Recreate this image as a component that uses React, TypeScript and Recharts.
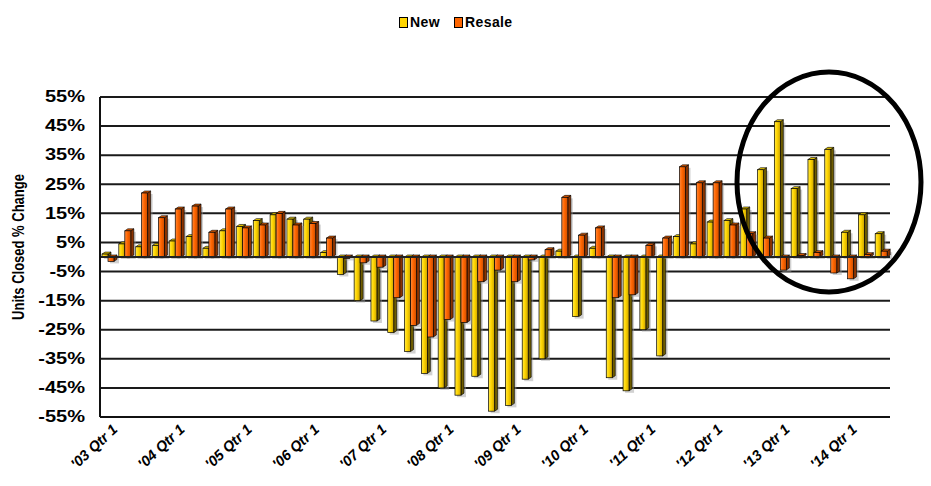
import {
  BarChart,
  Bar,
  XAxis,
  YAxis,
  CartesianGrid,
  Legend,
  ReferenceLine,
} from 'recharts';

const YEARS = ['03', '04', '05', '06', '07', '08', '09', '10', '11', '12', '13', '14'];

// '03 Qtr 1 ... '14 Qtr 3
const QUARTERS: string[] = [];
YEARS.forEach((yr) => {
  [1, 2, 3, 4].forEach((q) => QUARTERS.push(`'${yr} Qtr ${q}`));
});
QUARTERS.length = 47;

const NEW_VALUES = [
  1, 4.5, 3.5, 4, 5.5, 7, 3, 9, 10.5, 12.5, 14.5, 13, 13, 1.5, -6, -15, -22, -26, -32.5, -40, -45,
  -47.5, -41, -53, -51, -42, -35, 2, -20.5, 3, -41.5, -46, -25, -34, 7, 4.5, 12, 12.5, 16.5, 30,
  46.5, 23.5, 33.5, 37, 8.5, 14.5, 8,
];

const RESALE_VALUES = [
  -1.5, 9, 22, 13.5, 16.5, 17.5, 8.5, 16.5, 10, 11, 15, 11, 11.5, 6.5, -0.5, -2, -3.5, -14, -23.5,
  -27.5, -21.5, -22.5, -8.5, -4.5, -8.5, -1, 2.5, 20.5, 7.5, 10, -14, -13, 4, 6.5, 31, 25.5, 25.5,
  11, 8, 6.5, -4.5, 0.5, 1.5, -5.5, -7.5, 0.8, 2,
];

const Y_TICKS = [-55, -45, -35, -25, -15, -5, 5, 15, 25, 35, 45, 55];

const data = QUARTERS.map((q, i) => ({
  q,
  newUnits: NEW_VALUES[i],
  resale: RESALE_VALUES[i],
}));

const FONT = 'Arial, "Liberation Sans", Helvetica, sans-serif';

const SIDES: Record<string, { side: string; top: string; grad: string }> = {
  newUnits: { side: '#6e5c00', top: '#e3c400', grad: 'gNew' },
  resale: { side: '#8a3300', top: '#d95700', grad: 'gResale' },
};

function Bar3D(props: any) {
  const { x, y, width, height, kind } = props;
  if (x == null || y == null) return null;
  const t = Math.min(y, y + height);
  const h = Math.abs(height);
  const d = 3;
  const e = 2;
  const c = SIDES[kind];
  const r = x + width;
  return (
    <g>
      <rect x={x + 2} y={t + 1} width={width + d} height={h + 1} fill="#9a9a9a" opacity={0.45} />
      <polygon
        points={`${r},${t} ${r + d},${t - e} ${r + d},${t + h - e} ${r},${t + h}`}
        fill={c.side}
        stroke="#000"
        strokeWidth={0.6}
      />
      <polygon
        points={`${x},${t} ${x + d},${t - e} ${r + d},${t - e} ${r},${t}`}
        fill={c.top}
        stroke="#000"
        strokeWidth={0.6}
      />
      <rect x={x} y={t} width={width} height={h} fill={`url(#${c.grad})`} stroke="#000" strokeWidth={0.7} />
    </g>
  );
}

function YTick({ x, y, payload }: any) {
  return (
    <text
      transform={`translate(${x},${y}) scale(1.25,1)`}
      textAnchor="end"
      dominantBaseline="central"
      fontSize={16}
      fontWeight="bold"
      fontFamily={FONT}
      fill="#000"
    >
      {payload.value}%
    </text>
  );
}

function YLabel({ viewBox }: any) {
  const cy = viewBox.y + viewBox.height / 2 - 10;
  return (
    <text
      transform={`translate(18,${cy}) scale(1.25,1) rotate(-90)`}
      textAnchor="middle"
      dominantBaseline="central"
      fontSize={13}
      fontWeight="bold"
      fontFamily={FONT}
      fill="#000"
    >
      Units Closed % Change
    </text>
  );
}

function LegendBox({ payload }: any) {
  return (
    <div style={{ position: 'relative', height: 97, width: 931 }}>
      <div
        style={{
          position: 'absolute',
          left: 399,
          top: 14,
          display: 'flex',
          alignItems: 'center',
          fontFamily: FONT,
          fontWeight: 700,
          fontSize: 14,
          color: '#000',
        }}
      >
        {(payload || []).map((p: any, i: number) => (
          <span key={p.value} style={{ display: 'flex', alignItems: 'center', marginLeft: i ? 14 : 0 }}>
            <span
              style={{
                display: 'inline-block',
                width: 7,
                height: 9,
                background: p.color,
                border: '1px solid #000',
                marginRight: 2,
              }}
            />
            <span style={{ letterSpacing: 0.4 }}>{p.value}</span>
          </span>
        ))}
      </div>
    </div>
  );
}

export default function App() {
  return (
    <div style={{ position: 'absolute', left: 0, top: 0, width: 931, height: 486, background: '#fff' }}>
      <BarChart
        width={931}
        height={486}
        data={data}
        margin={{ top: 0, right: 41, bottom: 0, left: 0 }}
        barGap={0}
        barSize={6}
      >
        <defs>
          <linearGradient id="gNew" x1="0" y1="0" x2="1" y2="0">
            <stop offset="0%" stopColor="#ffe94a" />
            <stop offset="45%" stopColor="#ffd500" />
            <stop offset="100%" stopColor="#c9a200" />
          </linearGradient>
          <linearGradient id="gResale" x1="0" y1="0" x2="1" y2="0">
            <stop offset="0%" stopColor="#ff8c40" />
            <stop offset="45%" stopColor="#ff6600" />
            <stop offset="100%" stopColor="#cc4c00" />
          </linearGradient>
        </defs>
        <CartesianGrid vertical={false} stroke="#1a1a1a" strokeWidth={2} />
        <XAxis
          dataKey="q"
          interval={0}
          height={69}
          tickSize={0}
          tickMargin={6}
          tickLine={false}
          angle={-43}
          textAnchor="end"
          tickFormatter={(v: string) => (v.endsWith('Qtr 1') ? v : '')}
          tick={{ fontSize: 14.5, fontWeight: 'bold', fontStyle: 'italic', fontFamily: FONT, fill: '#000', dx: 3 }}
          axisLine={{ stroke: '#111', strokeWidth: 2 }}
        />
        <YAxis
          width={100}
          domain={[-55, 55]}
          ticks={Y_TICKS}
          allowDataOverflow
          tickSize={0}
          tickMargin={15}
          tickLine={false}
          axisLine={{ stroke: '#111', strokeWidth: 2 }}
          tick={<YTick />}
          label={{ content: (p: any) => <YLabel {...p} /> }}
        />
        <YAxis
          yAxisId="right"
          orientation="right"
          width={0}
          domain={[-55, 55]}
          ticks={Y_TICKS}
          tick={false}
          tickLine={false}
          axisLine={{ stroke: '#111', strokeWidth: 2 }}
        />
        <Legend verticalAlign="top" wrapperStyle={{ left: 0, top: 0, width: 931 }} content={<LegendBox />} />
        <ReferenceLine y={0} stroke="#222" strokeWidth={2} />
        <Bar
          dataKey="newUnits"
          name="New"
          fill="#ffd500"
          isAnimationActive={false}
          shape={(p: any) => <Bar3D {...p} kind="newUnits" />}
        />
        <Bar
          dataKey="resale"
          name="Resale"
          fill="#ff6600"
          isAnimationActive={false}
          shape={(p: any) => <Bar3D {...p} kind="resale" />}
        />
      </BarChart>
      <svg
        width={931}
        height={486}
        style={{ position: 'absolute', left: 0, top: 0, pointerEvents: 'none' }}
      >
        <ellipse cx={829} cy={182} rx={92} ry={110} fill="none" stroke="#000" strokeWidth={5} />
      </svg>
    </div>
  );
}
